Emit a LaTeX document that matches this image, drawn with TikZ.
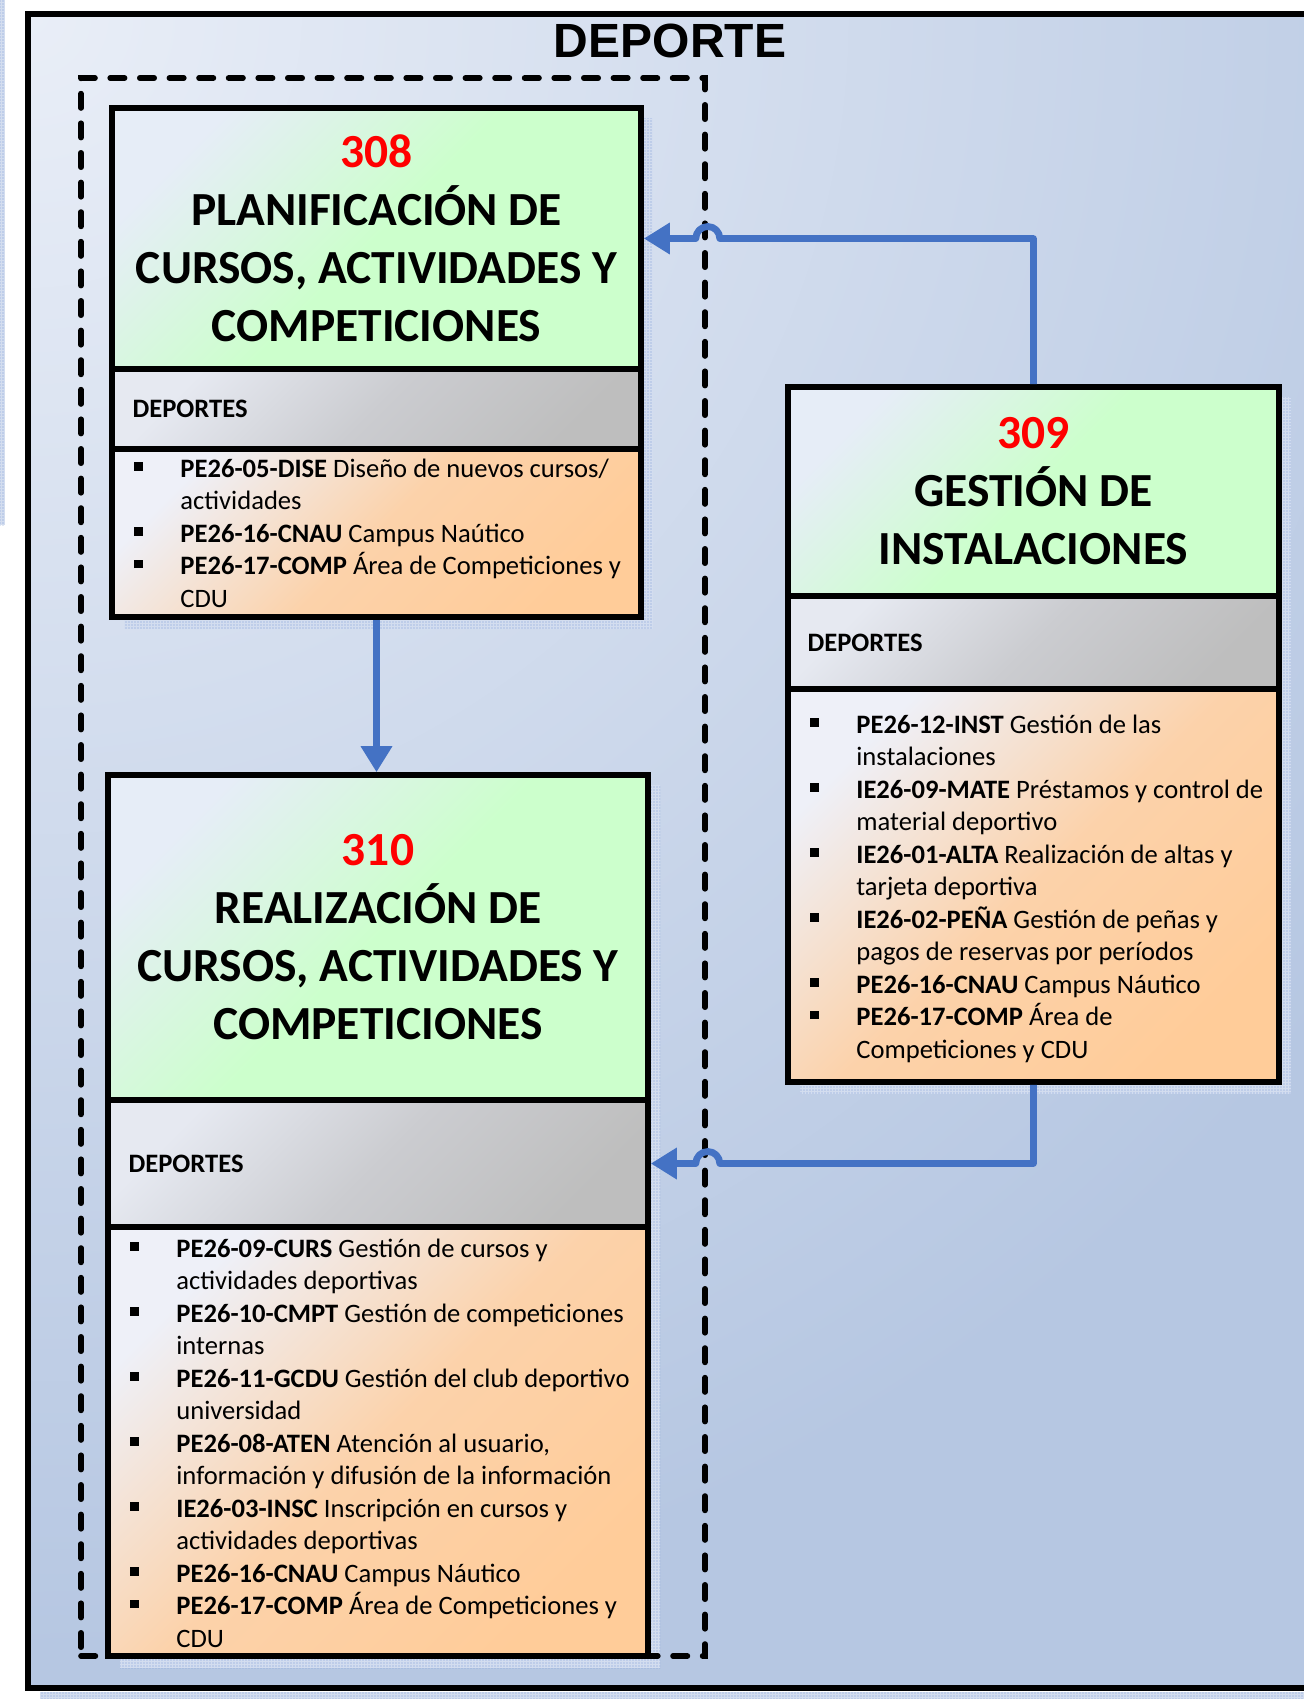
\documentclass[tikz,border=0pt]{standalone}
\usepackage{fontspec}
\setmainfont{Carlito}
\newfontfamily\arialfont{Liberation Sans}
\usetikzlibrary{arrows.meta,patterns.meta,fit,calc}
\definecolor{bgL}{HTML}{E9EEF7}
\definecolor{bgD}{HTML}{B6C7E2}
\definecolor{grnL}{HTML}{E6EDF7}
\definecolor{grnC}{HTML}{CCFFCC}
\definecolor{gryL}{HTML}{E6E9F1}
\definecolor{gryM}{HTML}{CBCCD0}
\definecolor{gryC}{HTML}{BEBEBE}
\definecolor{orgL}{HTML}{EEF0F8}
\definecolor{orgM}{HTML}{FCD2AA}
\definecolor{orgC}{HTML}{FFCC99}
\definecolor{arrC}{HTML}{4472C4}
\definecolor{shdC}{HTML}{D3DDEF}
\definecolor{numC}{HTML}{FF0000}
\newcommand\blt[1]{\makebox[34pt][l]{\hspace*{10.9pt}\rule[3.2pt]{4.2pt}{4.2pt}}\textbf{#1}}
\newcommand\ind{\hspace*{34pt}}
\newcommand\lst{\rule{0pt}{10.5pt}}
\tikzset{
  sec/.style={draw=black, line width=2.8pt, inner sep=0pt},
  greensec/.style={sec, top color=grnL, bottom color=grnC, middle color=grnC, shading angle=45},
  greysec/.style={sec, top color=gryL, bottom color=gryC, middle color=gryM, shading angle=45},
  orangesec/.style={sec, top color=orgL, bottom color=orgC, middle color=orgM, shading angle=45},
  shd/.style={fill=shdC, postaction={pattern={Dots[radius=0.35pt,distance=1.5pt]}, pattern color=arrC!70}},
  titletxt/.style={inner sep=0pt, align=center, font=\fontsize{23.75pt}{29pt}\selectfont\bfseries},
  deptxt/.style={inner sep=0pt, anchor=west, font=\fontsize{13.3pt}{16.25pt}\selectfont\bfseries},
  lsttxt/.style={inner sep=0pt, anchor=north west, align=left, font=\fontsize{13.3pt}{16.25pt}\selectfont},
  conn/.style={draw=arrC, line width=3.4pt, line join=round, -{Triangle[length=13pt,width=15pt]}},
  dashbox/.style={draw=black, line width=2.8pt, line cap=round, dash pattern=on 7.2pt off 7.6pt, inner sep=0pt},
  framebox/.style={draw=black, line width=2.8pt, inner sep=0pt}
}
\begin{document}
\begin{tikzpicture}[x=0.5pt,y=-0.5pt]
\useasboundingbox (0,0) rectangle (1304,1699);
\clip (0,0) rectangle (1304,1699);
\fill[white] (0,0) rectangle (1304,1699);
% outer frame
\fill[shd] (0,0) rectangle (5,525);
\fill[shd] (40,1692) rectangle (1304,1699);
\fill[bgD] (28,14) rectangle (1330,1688);
\begin{scope}
\clip (28,14) rectangle (1330,1688);
\shade[inner color=bgL, outer color=bgD] (28,14) circle[radius=820pt];
\end{scope}
\node[framebox, fit={(28,14) (1330,1688)}] (frm) {};
\node[font=\arialfont\bfseries\fontsize{24pt}{29pt}\selectfont, inner sep=0pt] (ttl) at (670,41) {DEPORTE};
% shadows
\fill[shd] (124,118) rectangle (653,629);
\fill[shd] (800,397) rectangle (1291,1094);
\fill[shd] (120,785) rectangle (660,1668);
% box 308
\node[greensec, fit={(112,108) (641,369)}] (h308) {};
\node[greysec, fit={(112,369) (641,449)}] (g308) {};
\node[orangesec, fit={(112,449) (641,617)}] (o308) {};
% box 309
\node[greensec, fit={(788,387) (1279,596)}] (h309) {};
\node[greysec, fit={(788,596) (1279,689)}] (g309) {};
\node[orangesec, fit={(788,689) (1279,1082)}] (o309) {};
% box 310
\node[greensec, fit={(108,775) (648,1100)}] (h310) {};
\node[greysec, fit={(108,1100) (648,1227)}] (g310) {};
\node[orangesec, fit={(108,1227) (648,1656)}] (o310) {};
% titles
\node[titletxt] (t308) at (h308.center) {\textcolor{numC}{308}\\PLANIFICACIÓN DE\\CURSOS, ACTIVIDADES Y\\COMPETICIONES};
\node[titletxt] (t309) at (h309.center) {\textcolor{numC}{309}\\GESTIÓN DE\\INSTALACIONES};
\node[titletxt] (t310) at (h310.center) {\textcolor{numC}{310}\\REALIZACIÓN DE\\CURSOS, ACTIVIDADES Y\\COMPETICIONES};
% DEPORTES
\node[deptxt] (d308) at ([xshift=11.5pt]g308.west) {DEPORTES};
\node[deptxt] (d309) at ([xshift=11pt]g309.west) {DEPORTES};
\node[deptxt] (d310) at ([xshift=11.5pt]g310.west) {DEPORTES};
% lists
\node[lsttxt] (l308) at (112,455.6) {\lst\blt{PE26-05-DISE} Diseño de nuevos cursos/\\
\ind actividades\\
\blt{PE26-16-CNAU} Campus Naútico\\
\blt{PE26-17-COMP} Área de Competiciones y\\
\ind CDU};
\node[lsttxt] (l309) at (788,711.6) {\lst\blt{PE26-12-INST} Gestión de las\\
\ind instalaciones\\
\blt{IE26-09-MATE} Préstamos y control de\\
\ind material deportivo\\
\blt{IE26-01-ALTA} Realización de altas y\\
\ind tarjeta deportiva\\
\blt{IE26-02-PEÑA} Gestión de peñas y\\
\ind pagos de reservas por períodos\\
\blt{PE26-16-CNAU} Campus Náutico\\
\blt{PE26-17-COMP} Área de\\
\ind Competiciones y CDU};
\node[lsttxt] (l310) at (108,1235.6) {\lst\blt{PE26-09-CURS} Gestión de cursos y\\
\ind actividades deportivas\\
\blt{PE26-10-CMPT} Gestión de competiciones\\
\ind internas\\
\blt{PE26-11-GCDU} Gestión del club deportivo\\
\ind universidad\\
\blt{PE26-08-ATEN} Atención al usuario,\\
\ind información y difusión de la información\\
\blt{IE26-03-INSC} Inscripción en cursos y\\
\ind actividades deportivas\\
\blt{PE26-16-CNAU} Campus Náutico\\
\blt{PE26-17-COMP} Área de Competiciones y\\
\ind CDU};
% dashed group
\node[dashbox, fit={(81,78) (705,1656)}] (dsh) {};
% connectors
\draw[conn] (o308.south) -- (o308.south |- h310.north);
\draw[conn] (h309.north) -- (h309.north |- h308.east) -- ($(dsh.east |- h308.east)+(12,0)$) arc[start angle=0,end angle=180,radius=6pt] -- (h308.east);
\draw[conn] (o309.south) -- (o309.south |- g310.east) -- ($(dsh.east |- g310.east)+(12,0)$) arc[start angle=0,end angle=180,radius=6pt] -- (g310.east);
\end{tikzpicture}
\end{document}
